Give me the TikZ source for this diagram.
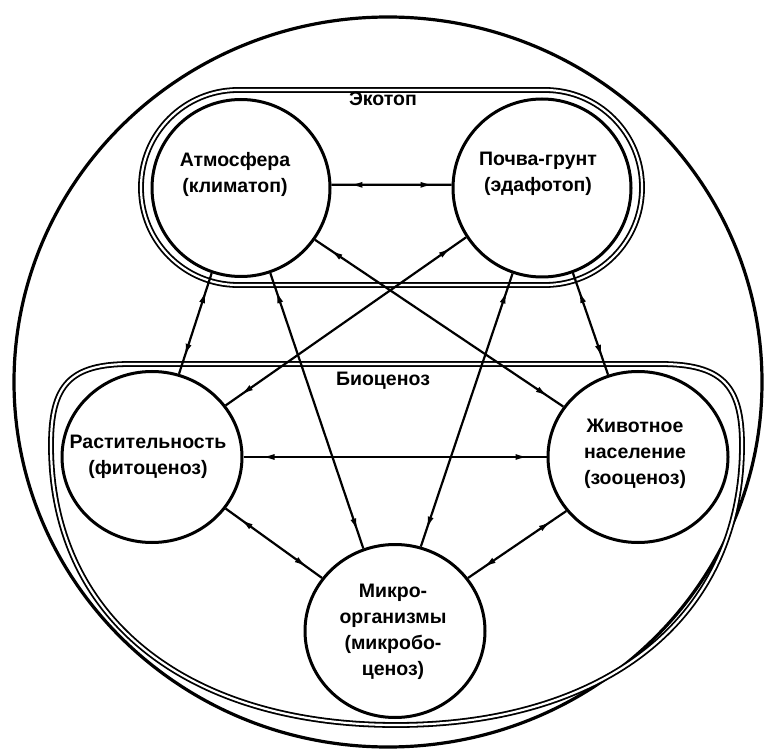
\documentclass[tikz,border=0pt]{standalone}
\usepackage{fontspec}
\setmainfont{Liberation Sans}
\usetikzlibrary{shapes.geometric,arrows.meta,decorations.markings}
\tikzset{
  circ/.style={draw, ellipse, line width=3pt, inner sep=0pt},
  lbl/.style={align=center, inner sep=0pt, font=\fontsize{19.5}{26}\selectfont\bfseries},
  frame/.style={line width=1.8pt, double, double distance=2.2pt},
  tipk/.tip={Latex[length=13pt,width=6pt]},
  conn/.style={line width=2.2pt, postaction={decorate},
    decoration={markings,
      mark=at position 18pt with {\arrowreversed{tipk}},
      mark=at position -18pt with {\arrow{tipk}}}}
}
\begin{document}
\begin{tikzpicture}[x=1pt,y=-1pt]
\useasboundingbox (0,0) rectangle (766,751);
% outer circle
\draw[line width=3.2pt] (388,382) ellipse [x radius=374pt, y radius=365pt];
% ecotope
\draw[frame, rounded corners=97pt] (141,90) rectangle (642,285);
\node[lbl] (eco) at (383,99) {Экотоп};
% biocenosis
\draw[frame] (130,364) -- (660,364)
  .. controls (722,364) and (742,385) .. (742,445)
  .. controls (742,620) and (603,725) .. (396,725)
  .. controls (189,725) and (51,620) .. (51,445)
  .. controls (51,385) and (70,364) .. (130,364) -- cycle;
\node[lbl] (bio) at (383,381) {Биоценоз};
% circles
\node[circ, minimum width=178pt, minimum height=177pt] (A) at (241,188) {};
\node[circ, minimum width=178pt, minimum height=178pt] (P) at (542,188) {};
\node[circ, minimum width=180pt, minimum height=171pt] (R) at (152,457) {};
\node[circ, minimum width=180pt, minimum height=171pt] (Z) at (638,457) {};
\node[circ, minimum width=180pt, minimum height=173pt] (M) at (395,631) {};
% texts
\node[lbl] (tA) at (235,174) {Атмосфера\\(климатоп)};
\node[lbl] (tP) at (538,174) {Почва-грунт\\(эдафотоп)};
\node[lbl] (tR) at (148,457) {Растительность\\(фитоценоз)};
\node[lbl] (tZ) at (635,454) {Животное\\население\\(зооценоз)};
\node[lbl] (tM) at (393,632) {Микро-\\организмы\\(микробо-\\ценоз)};
% connectors
\draw[conn] (A.2) -- (P.178);
\draw[conn] (R.0) -- (Z.180);
\draw[conn] (A.251) -- (R.72);
\draw[conn] (A.289) -- (M.111);
\draw[conn] (A.325) -- (Z.146);
\draw[conn] (P.213) -- (R.35);
\draw[conn] (P.251) -- (M.73);
\draw[conn] (P.290) -- (Z.110);
\draw[conn] (R.325) -- (M.144);
\draw[conn] (Z.217) -- (M.36);
\end{tikzpicture}
\end{document}
